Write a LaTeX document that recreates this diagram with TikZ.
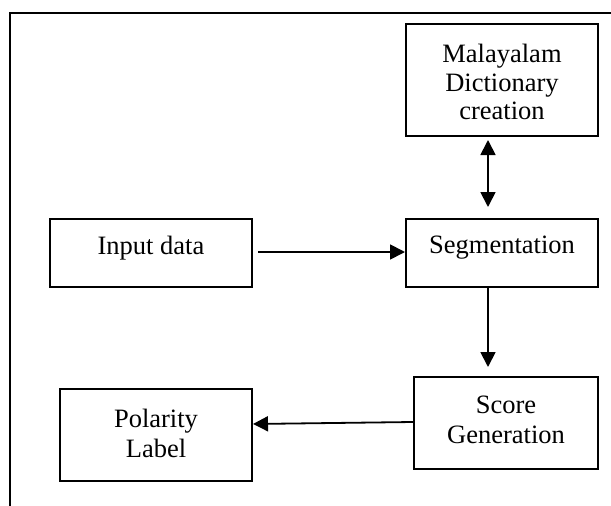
\documentclass[tikz,border=0pt]{standalone}
\usepackage{fontspec}
\setmainfont{Liberation Serif}
\usetikzlibrary{arrows.meta}
\begin{document}
\begin{tikzpicture}[x=1pt,y=-1pt,
  box/.style={draw,line width=2pt,minimum width=#1,inner sep=0pt},
  lbl/.style={inner sep=0pt,align=center,font=\fontsize{26.5}{#1}\selectfont},
  lbl/.default=28.5,
  arr/.style={line width=1.8pt,-{Triangle[length=15pt,width=15pt]}},
  darr/.style={line width=1.8pt,{Triangle[length=15pt,width=15pt]}-{Triangle[length=15pt,width=15pt]}}]
\useasboundingbox (0,0) rectangle (611,506);
\fill[white] (0,0) rectangle (611,506);
\draw[line width=2.4pt] (10,506) -- (10,13) -- (611,13);
\node[box=192pt,minimum height=112pt] (mal) at (502,80) {};
\node[box=202pt,minimum height=68pt] (in) at (151,253) {};
\node[box=192pt,minimum height=68pt] (seg) at (502,253) {};
\node[box=184pt,minimum height=92pt] (sc) at (506,423) {};
\node[box=192pt,minimum height=92pt] (pol) at (156,435) {};
\node[lbl] (malt) at ([yshift=-2pt]mal.center) {Malayalam\\Dictionary\\creation};
\node[lbl] (int) at ([yshift=5pt]in.center) {Input data};
\node[lbl] (segt) at ([yshift=5pt]seg.center) {Segmentation};
\node[lbl=30] (sct) at ([yshift=3pt]sc.center) {Score\\Generation};
\node[lbl=30.5] (polt) at ([yshift=1.5pt]pol.center) {Polarity\\Label};
\draw[arr] ([xshift=5pt,yshift=1pt]in.east) -- ([yshift=1pt]seg.west);
\draw[darr] ([xshift=-14pt,yshift=-3pt]mal.south) -- ([xshift=-14pt,yshift=11pt]seg.north);
\draw[arr] ([xshift=-14pt]seg.south) -- ([xshift=-18pt,yshift=9pt]sc.north);
\draw[arr] ([yshift=1pt]sc.west) -- ([yshift=11pt]pol.east);
\end{tikzpicture}
\end{document}
